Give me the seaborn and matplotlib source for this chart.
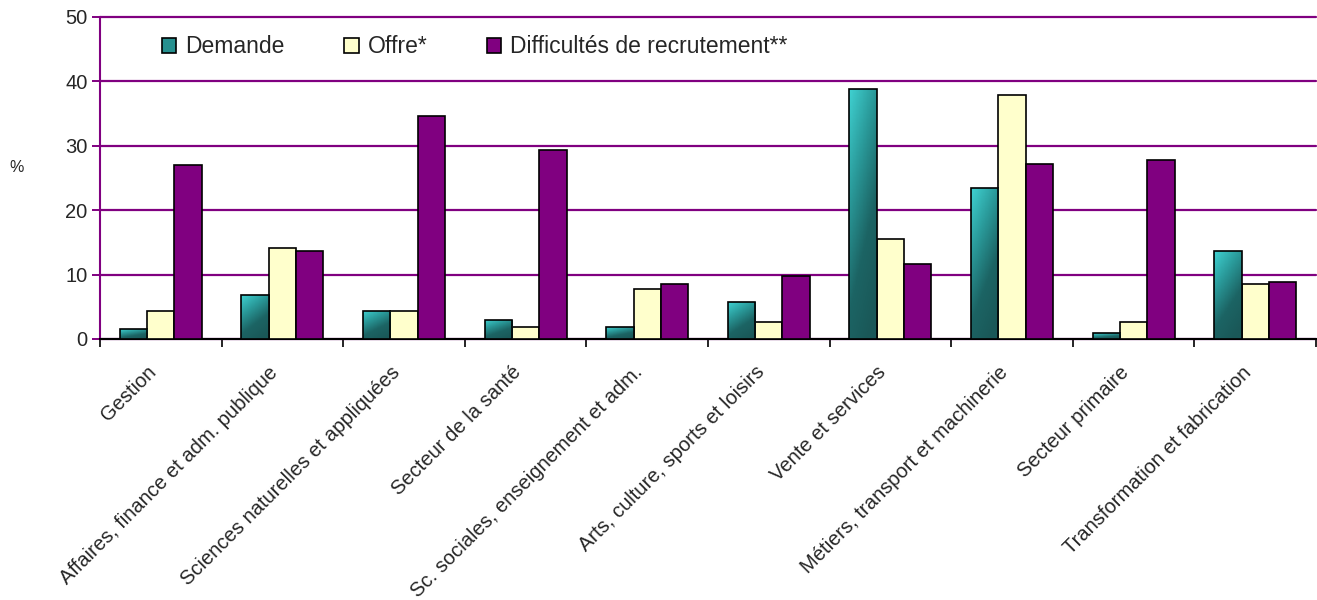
import numpy as np
import pandas as pd
import matplotlib
matplotlib.use("Agg")
import matplotlib.pyplot as plt
import matplotlib.transforms as mtransforms
import seaborn as sns
from matplotlib.colors import LinearSegmentedColormap

# Categories and series values
categories = [
    "Gestion", "Affaires, finance et adm. publique", "Sciences naturelles et appliquées",
    "Secteur de la santé", "Sc. sociales, enseignement et adm.",
    "Arts, culture, sports et loisirs", "Vente et services",
    "Métiers, transport et machinerie", "Secteur primaire", "Transformation et fabrication",
]
demande = [1.5, 6.8, 4.4, 3.0, 1.8, 5.7, 38.8, 23.4, 0.9, 13.6]
offre = [4.4, 14.2, 4.4, 1.8, 7.7, 2.7, 15.6, 37.9, 2.6, 8.5]
difficultes = [27.0, 13.6, 34.6, 29.3, 8.6, 9.8, 11.6, 27.2, 27.8, 8.8]
series_names = ["Demande", "Offre*", "Difficultés de recrutement**"]

df = pd.DataFrame({
    "cat": categories * 3,
    "serie": [series_names[0]] * 10 + [series_names[1]] * 10 + [series_names[2]] * 10,
    "val": demande + offre + difficultes,
})

sns.set_style("white")
plt.rcParams['font.family'] = ['Liberation Sans', 'DejaVu Sans']

purple = "#800080"
palette = {"Demande": "#2a9d9d", "Offre*": "#ffffcc", "Difficultés de recrutement**": purple}

fig = plt.figure(figsize=(13.17, 6), dpi=100)
ax = fig.add_axes([100 / 1317, 261 / 600, 1216 / 1317, 322 / 600])

sns.barplot(data=df, x="cat", y="val", hue="serie", palette=palette, width=0.675,
            edgecolor="black", linewidth=1.2, ax=ax, zorder=3, saturation=1)

# gradient fill for the Demande bars: light at top-left, dark at bottom-right
cmap = LinearSegmentedColormap.from_list("teal", ["#3fd0d0", "#2a9a9a", "#1c6464", "#1a5858"])
img = (np.outer(np.linspace(0.0, 0.75, 60), np.ones(20))
       + np.outer(np.ones(60), np.linspace(0.0, 0.35, 20)))
for patch in ax.containers[0]:
    x0, y0 = patch.get_x(), patch.get_y()
    w, h = patch.get_width(), patch.get_height()
    im = ax.imshow(img, cmap=cmap, vmin=0, vmax=1, extent=[x0, x0 + w, y0, y0 + h],
                   aspect="auto", zorder=3.5, origin="upper")
    im.set_clip_path(patch)
    patch.set_zorder(4)
    patch.set_facecolor("none")

ax.set_xlim(-0.5, 9.5)
ax.set_ylim(0, 50)
ax.set_yticks(range(0, 51, 10))
ax.yaxis.grid(True, color=purple, linewidth=1.6, zorder=1)
for gl in ax.get_ygridlines():
    gl.set_clip_on(False)
ax.set_axisbelow(True)

ax.set_xlabel("")
ax.set_ylabel("%", rotation=0, fontsize=11.5)
ax.yaxis.set_label_coords(-0.069, 0.51)

ax.set_xticks(np.arange(10))
ax.set_xticklabels(categories, rotation=45, ha="right", rotation_mode="anchor", fontsize=14.5)
ax.tick_params(axis="x", length=0, pad=12)
shift = mtransforms.ScaledTranslation(-10 / 72, -5 / 72, fig.dpi_scale_trans)
for lab in ax.get_xticklabels():
    lab.set_transform(lab.get_transform() + shift)
ax.set_xticks(np.arange(-0.5, 10, 1), minor=True)
ax.tick_params(axis="x", which="minor", length=6, width=1.2, color="black", direction="out")
ax.tick_params(axis="y", length=6, width=1.4, color=purple, direction="out", labelsize=14.5, pad=3)
ax.xaxis.set_ticks_position("bottom")
ax.yaxis.set_ticks_position("left")

for s in ["top", "right"]:
    ax.spines[s].set_visible(False)
ax.spines["left"].set_color(purple)
ax.spines["left"].set_linewidth(1.5)
ax.spines["bottom"].set_color("black")
ax.spines["bottom"].set_linewidth(1.5)

leg = ax.legend(loc="center left", bbox_to_anchor=(0.051, 0.907), ncol=3, frameon=False,
                fontsize=16.5, handlelength=0.62, handleheight=0.62, columnspacing=2.6,
                handletextpad=0.4, borderpad=0, borderaxespad=0)
leg.legend_handles[0].set_facecolor("#26908f")
for hnd in leg.legend_handles:
    hnd.set_edgecolor("black")

fig.savefig("out.png", dpi=100)
